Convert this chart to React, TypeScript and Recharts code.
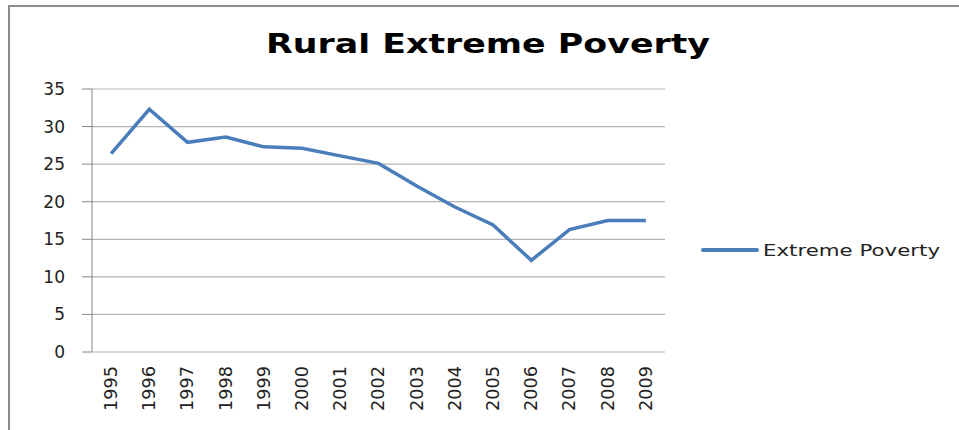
import { LineChart, Line, XAxis, YAxis, CartesianGrid, Legend } from 'recharts';

const years = ['1995', '1996', '1997', '1998', '1999', '2000', '2001', '2002', '2003', '2004', '2005', '2006', '2007', '2008', '2009'];
const extremePoverty = [26.4, 32.3, 27.9, 28.6, 27.3, 27.1, 26.1, 25.1, 22.1, 19.3, 16.9, 12.2, 16.3, 17.5, 17.5];
const yTicks = [0, 5, 10, 15, 20, 25, 30, 35];

// each year sits in the middle of its slot, slot edges carry the tick marks
const data = years.map((year, i) => ({ pos: i + 0.5, year, value: extremePoverty[i] }));
const edgeTicks = years.map((_, i) => i).concat(years.length);
const centerTicks = data.map(d => d.pos);

const AXIS = '#868686';
const GRID = '#b3b3b3';
const BLUE = '#4a7ebb';
const FONT = '"DejaVu Sans", sans-serif';

function YearTick({ x, y, payload }: any) {
  const label = years[Math.floor(payload.value)];
  return (
    <text
      transform={`translate(${x},${y}) rotate(-90)`}
      textAnchor="end"
      dy="0.35em"
      fontFamily={FONT}
      fontSize={17}
      fill="#222"
      textLength={45}
      lengthAdjust="spacingAndGlyphs"
    >
      {label}
    </text>
  );
}

function LegendItem() {
  return (
    <svg width={250} height={30} style={{ display: 'block' }}>
      <line x1={2} y1={15} x2={56} y2={15} stroke={BLUE} strokeWidth={4} strokeLinecap="round" />
      <text
        x={62}
        y={21}
        fontFamily={FONT}
        fontSize={16.5}
        fill="#222"
        textLength={177}
        lengthAdjust="spacingAndGlyphs"
      >
        Extreme Poverty
      </text>
    </svg>
  );
}

export default function App() {
  return (
    <div style={{ position: 'fixed', left: 0, top: 0, width: 959, height: 430, background: '#fff' }}>
      <div style={{ position: 'absolute', left: 8, top: 5, right: 0, height: 2, background: '#8c8c8c' }} />
      <div style={{ position: 'absolute', left: 8, top: 5, width: 2, bottom: 0, background: '#8c8c8c' }} />
      <svg width={959} height={70} style={{ position: 'absolute', left: 0, top: 0 }}>
        <text
          x={266}
          y={53}
          fontFamily={FONT}
          fontWeight={700}
          fontSize={27}
          fill="#000"
          textLength={444}
          lengthAdjust="spacingAndGlyphs"
        >
          Rural Extreme Poverty
        </text>
      </svg>
      <LineChart
        width={959}
        height={430}
        data={data}
        margin={{ top: 89, right: 294, bottom: 18, left: 32 }}
        style={{ position: 'absolute', left: 0, top: 0 }}
      >
        <CartesianGrid xAxisId="edges" vertical={false} stroke={GRID} strokeWidth={1.2} />
        <XAxis
          xAxisId="edges"
          type="number"
          dataKey="pos"
          domain={[0, years.length]}
          ticks={edgeTicks}
          tick={false}
          tickSize={6}
          tickLine={{ stroke: AXIS }}
          axisLine={{ stroke: AXIS }}
          height={0}
        />
        <XAxis
          xAxisId="labels"
          type="number"
          dataKey="pos"
          domain={[0, years.length]}
          ticks={centerTicks}
          tick={<YearTick />}
          tickLine={false}
          axisLine={false}
          tickSize={6}
          tickMargin={8}
          height={60}
          interval={0}
        />
        <YAxis
          domain={[0, 35]}
          ticks={yTicks}
          width={60}
          tickSize={10}
          tickMargin={17}
          tickLine={{ stroke: AXIS }}
          axisLine={{ stroke: AXIS }}
          tick={{ fill: '#222', fontSize: 17, fontFamily: FONT }}
        />
        <Line
          xAxisId="edges"
          type="linear"
          dataKey="value"
          name="Extreme Poverty"
          stroke={BLUE}
          strokeWidth={3.5}
          dot={false}
          isAnimationActive={false}
        />
        <Legend
          layout="horizontal"
          verticalAlign="middle"
          content={<LegendItem />}
          wrapperStyle={{ left: 701, top: 235, width: 250 }}
        />
      </LineChart>
    </div>
  );
}
